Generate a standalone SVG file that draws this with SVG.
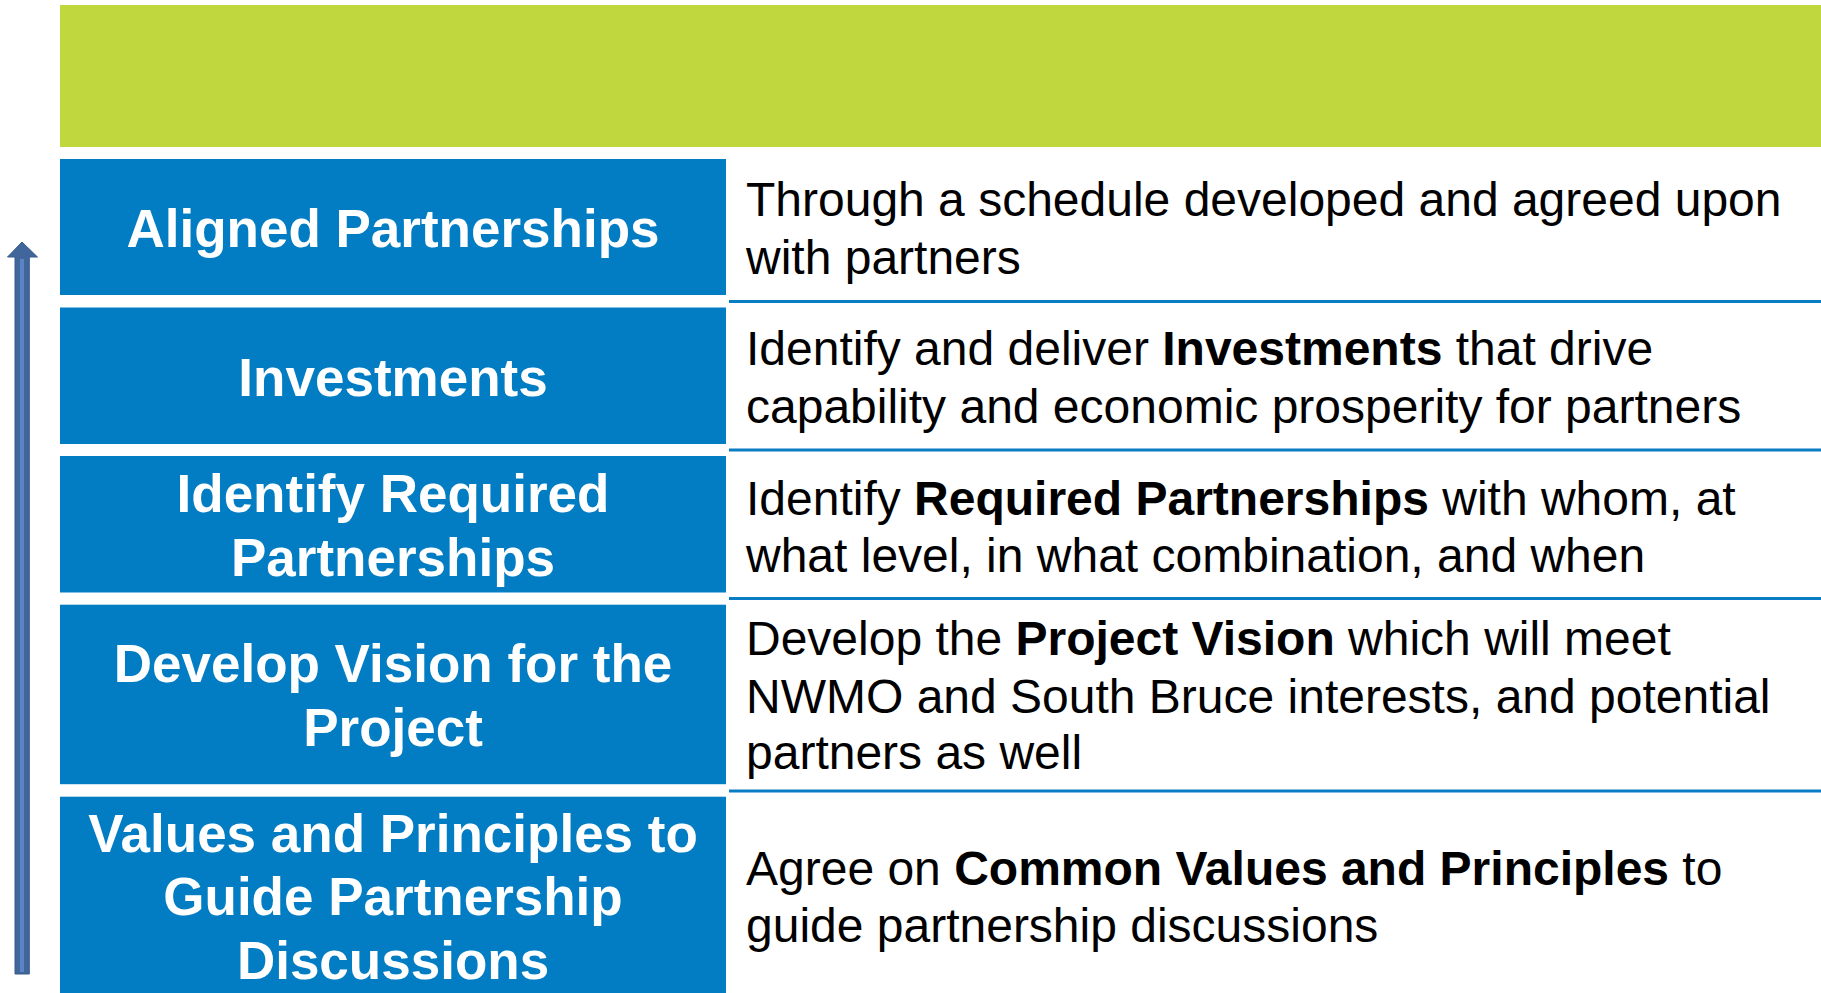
<svg xmlns="http://www.w3.org/2000/svg" width="1821" height="993" viewBox="0 0 1821 993">
<style>
.box{fill:#027CC2}
.lt{font-family:"Liberation Sans",Arial,sans-serif;font-weight:bold;font-size:53px;fill:#FFFFFF;text-anchor:middle}
.rt{font-family:"Liberation Sans",Arial,sans-serif;font-size:48px;fill:#000000}
.b{font-weight:bold}
.sep{stroke:#0A7CC4;stroke-width:3}
</style>
<rect width="1821" height="993" fill="#FFFFFF"/>
<rect id="header" x="60" y="5" width="1761" height="142" fill="#C0D83E"/>
<g id="arrow">
<polygon points="22,242 37.5,257 29.3,257 29.3,974 15,974 15,257 7.5,257" fill="#41669C" stroke="#3A5A8C" stroke-width="1"/>
<rect x="20" y="259" width="4" height="713" fill="#5A85C2"/>
</g>
<g id="separators">
<line class="sep" x1="729" y1="301.5" x2="1821" y2="301.5"/>
<line class="sep" x1="729" y1="450" x2="1821" y2="450"/>
<line class="sep" x1="729" y1="598.5" x2="1821" y2="598.5"/>
<line class="sep" x1="729" y1="791" x2="1821" y2="791"/>
</g>
<g id="row1">
<rect class="box" x="60" y="159" width="666" height="136"/>
<text class="lt" x="393" y="247">Aligned Partnerships</text>
<text class="rt" x="746" y="216">Through a schedule developed and agreed upon</text>
<text class="rt" x="746" y="274">with partners</text>
</g>
<g id="row2">
<rect class="box" x="60" y="307.5" width="666" height="136.5"/>
<text class="lt" x="393" y="396">Investments</text>
<text class="rt" x="746" y="365">Identify and deliver <tspan class="b">Investments</tspan> that drive</text>
<text class="rt" x="746" y="423">capability and economic prosperity for partners</text>
</g>
<g id="row3">
<rect class="box" x="60" y="456" width="666" height="136.5"/>
<text class="lt" x="393" y="512">Identify Required</text>
<text class="lt" x="393" y="576">Partnerships</text>
<text class="rt" x="746" y="515">Identify <tspan class="b">Required Partnerships</tspan> with whom, at</text>
<text class="rt" x="746" y="572">what level, in what combination, and when</text>
</g>
<g id="row4">
<rect class="box" x="60" y="604.7" width="666" height="179.5"/>
<text class="lt" x="393" y="682">Develop Vision for the</text>
<text class="lt" x="393" y="746">Project</text>
<text class="rt" x="746" y="655">Develop the <tspan class="b">Project Vision</tspan> which will meet</text>
<text class="rt" x="746" y="713">NWMO and South Bruce interests, and potential</text>
<text class="rt" x="746" y="769">partners as well</text>
</g>
<g id="row5">
<rect class="box" x="60" y="796.7" width="666" height="196.3"/>
<text class="lt" x="393" y="852">Values and Principles to</text>
<text class="lt" x="393" y="915">Guide Partnership</text>
<text class="lt" x="393" y="979">Discussions</text>
<text class="rt" x="746" y="885">Agree on <tspan class="b">Common Values and Principles</tspan> to</text>
<text class="rt" x="746" y="942">guide partnership discussions</text>
</g>
</svg>
